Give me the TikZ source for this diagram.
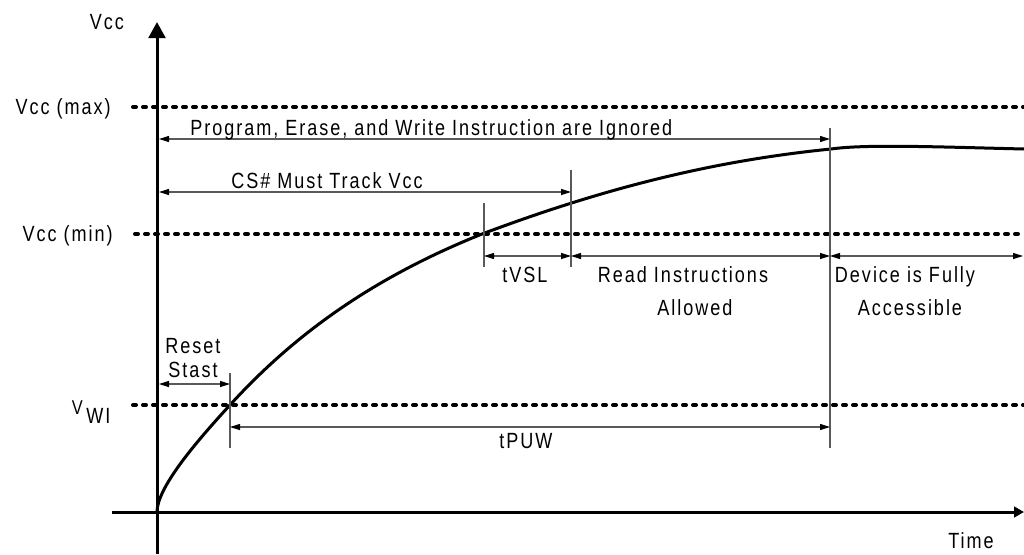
\documentclass[tikz,border=0pt]{standalone}
\usepackage{fontspec}
\setmainfont[FakeStretch=0.82,LetterSpace=9]{Liberation Sans}
\usetikzlibrary{arrows.meta}
\begin{document}
\begin{tikzpicture}[x=0.75pt,y=-0.75pt,
  lbl/.style={font=\fontsize{16.5}{19}\selectfont, inner sep=0pt, anchor=base},
  axis/.style={line width=2.25pt},
  guide/.style={line width=3pt, dash pattern=on 2.25pt off 5.25pt, line cap=round},
  tickline/.style={draw=black!65, line width=0.8pt},
  dimline/.style={draw=black!65, line width=0.8pt,
    {Triangle[length=7.5pt,width=4.5pt,color=black]}-{Triangle[length=7.5pt,width=4.5pt,color=black]}},
  curve/.style={line width=2.25pt, line join=round}]
\useasboundingbox (0,0) rectangle (1024,554);

% axes
\coordinate (yb) at (157,554);
\coordinate (yt) at (157,22);
\coordinate (xl) at (112,512);
\coordinate (xr) at (1024,512);
\draw[axis, -{Triangle[length=12pt,width=12.5pt]}] (yb) -- (yt);
\draw[axis, -{Triangle[length=7.5pt,width=8pt]}] (xl) -- (xr);

% guide levels
\coordinate (maxL) at (133,107); \coordinate (maxR) at (1024,107);
\coordinate (minL) at (135,234); \coordinate (minR) at (1024,234);
\coordinate (wiL) at (133,405);  \coordinate (wiR) at (1024,405);
\draw[guide] (maxL) -- (maxR);
\draw[guide] (minL) -- (minR);
\draw[guide] (wiL) -- (wiR);

% supply curve
\coordinate (c0) at (157,512);
\coordinate (c1) at (230,405);
\coordinate (c2) at (482,234);
\coordinate (c3) at (831,149);
\coordinate (c4) at (1024,149);
\draw[curve] (c0) .. controls (157,488) and (195,443) .. (c1)
  .. controls (300,328) and (382,274) .. (c2)
  .. controls (602,189) and (711,161) .. (c3)
  .. controls (866,144) and (940,147) .. (c4);

% vertical markers
\coordinate (t1a) at (230,373); \coordinate (t1b) at (230,448);
\coordinate (t2a) at (484,203); \coordinate (t2b) at (484,267);
\coordinate (t3a) at (571,170); \coordinate (t3b) at (571,267);
\coordinate (t4a) at (830,128); \coordinate (t4b) at (830,448);
\draw[tickline] (t1a) -- (t1b);
\draw[tickline] (t2a) -- (t2b);
\draw[tickline] (t3a) -- (t3b);
\draw[tickline] (t4a) -- (t4b);

% dimension arrows
\coordinate (pgL) at (159,139); \coordinate (pgR) at (830,139);
\coordinate (csL) at (159,192); \coordinate (csR) at (571,192);
\coordinate (rsL) at (159,384); \coordinate (rsR) at (230,384);
\coordinate (vsL) at (484,256); \coordinate (vsR) at (571,256);
\coordinate (rdL) at (571,256); \coordinate (rdR) at (830,256);
\coordinate (dvL) at (830,256); \coordinate (dvR) at (1023,256);
\coordinate (puL) at (230,427); \coordinate (puR) at (830,427);
\draw[dimline] (pgL) -- (pgR);
\draw[dimline] (csL) -- (csR);
\draw[dimline] (rsL) -- (rsR);
\draw[dimline] (vsL) -- (vsR);
\draw[dimline] (rdL) -- (rdR);
\draw[dimline] (dvL) -- (dvR);
\draw[dimline] (puL) -- (puR);

% labels
\node[lbl] (lvcc) at (107,29) {Vcc};
\node[lbl, anchor=base east] (lmax) at (111,114) {Vcc (max)};
\node[lbl, anchor=base east] (lmin) at (113,241) {Vcc (min)};
\node[lbl, anchor=base east] (lv) at (83,414) {\fontsize{15}{17}\selectfont V};
\node[lbl, anchor=base west] (lwi) at (86,423) {WI};
\node[lbl, anchor=base west] (lpg) at (190,135) {Program, Erase, and Write Instruction are Ignored};
\node[lbl, anchor=base west] (lcs) at (231,188) {CS\# Must Track Vcc};
\node[lbl] (lrs1) at (193,353) {Reset};
\node[lbl] (lrs2) at (193,377) {Stast};
\node[lbl] (lvsl) at (525,282) {tVSL};
\node[lbl] (lrd1) at (683,282) {Read Instructions};
\node[lbl] (lrd2) at (695,315) {Allowed};
\node[lbl] (ldv1) at (905,282) {Device is Fully};
\node[lbl] (ldv2) at (910,315) {Accessible};
\node[lbl] (lpu) at (526,448) {tPUW};
\node[lbl] (ltime) at (971,548) {Time};
\end{tikzpicture}
\end{document}
